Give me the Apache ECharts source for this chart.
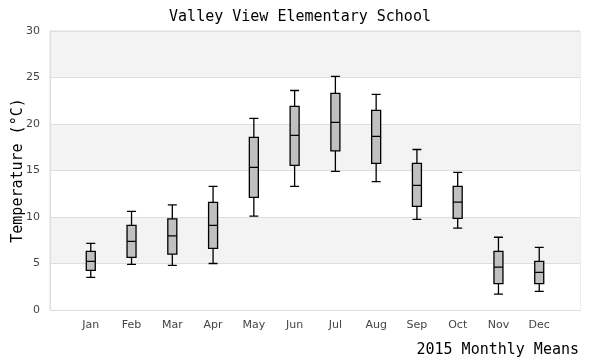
<!DOCTYPE html>
<html>
<head>
<meta charset="utf-8">
<script src="https://cdn.jsdelivr.net/npm/echarts@6/dist/echarts.min.js"></script>
<style>html,body{margin:0;padding:0;background:#fff;}#c{width:600px;height:360px;}</style>
</head>
<body>
<div id="c"></div>
<script>
var months = ['Jan','Feb','Mar','Apr','May','Jun','Jul','Aug','Sep','Oct','Nov','Dec'];
var lowWhisker = [3.5, 4.9, 4.8, 5.0, 10.1, 13.3, 14.9, 13.8, 9.75, 8.8, 1.7, 2.0];
var q1 = [4.27, 5.66, 6.0, 6.63, 12.1, 15.56, 17.1, 15.77, 11.15, 9.86, 2.83, 2.83];
var median = [5.23, 7.38, 7.96, 9.1, 15.34, 18.78, 20.18, 18.67, 13.4, 11.61, 4.62, 4.05];
var q3 = [6.31, 9.1, 9.8, 11.58, 18.57, 21.9, 23.3, 21.47, 15.77, 13.3, 6.31, 5.23];
var highWhisker = [7.17, 10.6, 11.3, 13.3, 20.6, 23.6, 25.13, 23.19, 17.26, 14.8, 7.82, 6.74];
var yTicks = [0, 5, 10, 15, 20, 25, 30];

var axisCats = [''].concat(months).concat(['']);
var boxData = [['-','-','-','-','-']];
for (var i = 0; i < months.length; i++) {
  boxData.push([lowWhisker[i], q1[i], median[i], q3[i], highWhisker[i]]);
}
boxData.push(['-','-','-','-','-']);

var mono = 'DejaVu Sans Mono';
var chart = echarts.init(document.getElementById('c'), null, {renderer: 'canvas'});
chart.setOption({
  animation: false,
  backgroundColor: '#ffffff',
  title: [{
    text: 'Valley View Elementary School',
    left: 'center', top: 5,
    textStyle: {fontFamily: mono, fontSize: 15, fontWeight: 'normal', color: '#000'}
  }, {
    text: '2015 Monthly Means',
    right: 16, top: 338,
    textStyle: {fontFamily: mono, fontSize: 15, fontWeight: 'normal', color: '#000'}
  }],
  grid: {left: 50, right: 20, top: 31, bottom: 50, containLabel: false, outerBoundsMode: 'none',
         show: true, borderColor: '#dedede', borderWidth: 1, backgroundColor: 'transparent'},
  xAxis: {
    type: 'category',
    data: axisCats,
    boundaryGap: false,
    axisLine: {lineStyle: {color: '#dedede'}},
    axisTick: {show: false},
    splitLine: {show: false},
    axisLabel: {interval: 0, color: '#444', fontFamily: 'DejaVu Sans', fontSize: 11, margin: 10}
  },
  yAxis: {
    type: 'value',
    min: yTicks[0], max: yTicks[yTicks.length - 1], interval: 5,
    name: 'Temperature (°C)',
    nameLocation: 'middle',
    nameGap: 24,
    nameMoveOverlap: false,
    nameTextStyle: {fontFamily: mono, fontSize: 15, color: '#000'},
    axisLine: {show: true, lineStyle: {color: '#dedede'}},
    axisTick: {show: false},
    axisLabel: {color: '#444', fontFamily: 'DejaVu Sans', fontSize: 11, margin: 10},
    splitLine: {show: true, lineStyle: {color: '#dedede'}},
    splitArea: {show: true, areaStyle: {color: ['#ffffff', '#f3f3f3']}}
  },
  series: [{
    type: 'boxplot',
    data: boxData,
    boxWidth: [9, 9],
    itemStyle: {color: '#c0c0c0', borderColor: '#000', borderWidth: 1.3},
    emphasis: {disabled: true}
  }]
});
</script>
</body>
</html>
